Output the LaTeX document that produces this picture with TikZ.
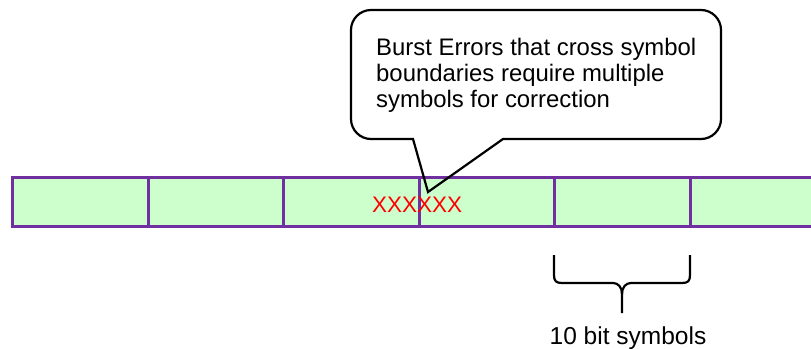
\documentclass[tikz,border=0pt]{standalone}
\usepackage{fontspec}
\setmainfont{Liberation Sans}
\definecolor{cellfill}{HTML}{CCFFCC}
\definecolor{cellline}{HTML}{7030A0}
\begin{document}
\begin{tikzpicture}[x=1pt,y=-1pt,
  cell/.style={draw=cellline, fill=cellfill, line width=3pt, minimum width=135.5pt, minimum height=49.5pt, inner sep=0pt, outer sep=0pt, anchor=north west},
  calloutline/.style={draw=black, line width=2.2pt, line join=miter},
  bracelines/.style={draw=black, line width=2.2pt},
  msgtext/.style={font=\fontsize{23.9}{26}\selectfont, anchor=base west, inner sep=0pt},
  errtext/.style={font=\fontsize{22.5}{26}\selectfont, text=red, anchor=base west, inner sep=0pt},
  lbltext/.style={font=\fontsize{24.5}{26}\selectfont, anchor=base, inner sep=0pt}]
\useasboundingbox (0,0) rectangle (811,348);
\foreach \i in {0,...,5} {
  \node[cell] (c\i) at ({12.7+135.5*\i},177) {};
}
\node[errtext] (err) at (372,212) {XXXXXX};
\coordinate (tip) at (428,192);
\path[calloutline] (413,139) -- (371,139) .. controls (360,139) and (351,130) .. (351,119)
  -- (351,30) .. controls (351,19) and (360,10) .. (371,10)
  -- (701,10) .. controls (712,10) and (721,19) .. (721,30)
  -- (721,119) .. controls (721,130) and (712,139) .. (701,139)
  -- (503,139) -- (tip) -- cycle;
\node[msgtext] (m1) at (376,55) {Burst Errors that cross symbol};
\node[msgtext] (m2) at (376,81) {boundaries require multiple};
\node[msgtext] (m3) at (376,107) {symbols for correction};
\coordinate (bl) at (554,255);
\coordinate (br) at (690,255);
\coordinate (btip) at (622,313);
\path[bracelines] (bl) -- (554,275) .. controls (554,281) and (556,283) .. (562,283)
  -- (613,283) .. controls (618,283) and (622,287) .. (622,294) -- (btip);
\path[bracelines] (br) -- (690,275) .. controls (690,281) and (688,283) .. (682,283)
  -- (631,283) .. controls (626,283) and (622,287) .. (622,294);
\node[lbltext] (lbl) at (628,344) {10 bit symbols};
\end{tikzpicture}
\end{document}
